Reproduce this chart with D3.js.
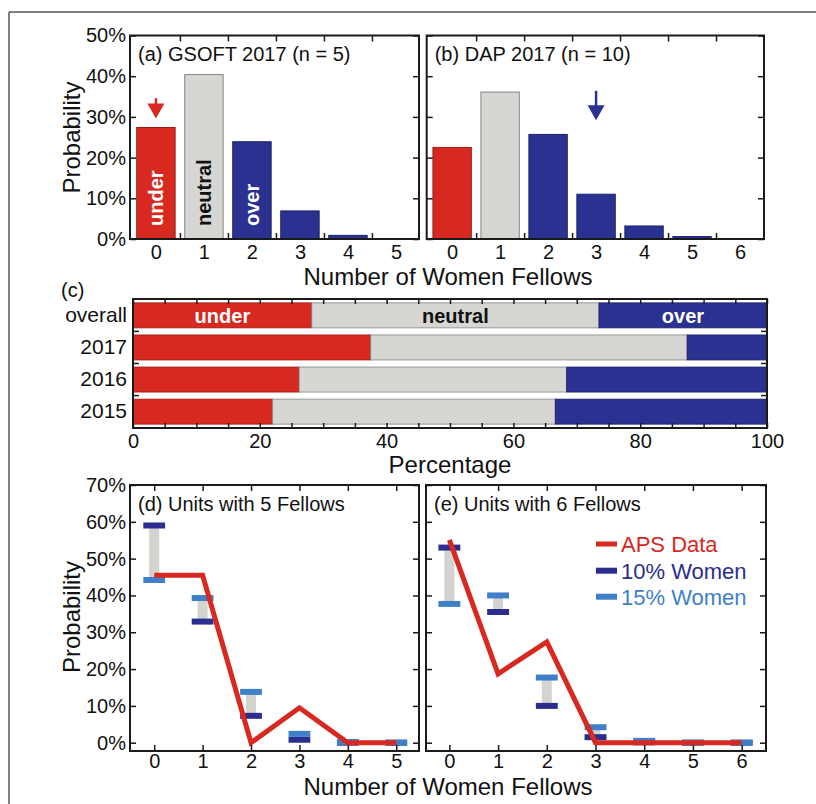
<!DOCTYPE html>
<html><head><meta charset="utf-8">
<script src="https://cdn.jsdelivr.net/npm/d3@7"></script>
<style>
body{margin:0;background:#fff}
svg{display:block}
text{font-family:"Liberation Sans",Arial,Helvetica,sans-serif}
</style></head><body>
<svg id="chart" width="816" height="804"></svg>
<script>
// ---------------- data ----------------
const fellowsA = [0,1,2,3,4,5];
const probA = [27.4,40.4,23.9,6.9,0.9,0.05];
const fellowsB = [0,1,2,3,4,5,6];
const probB = [22.5,36.1,25.7,11.0,3.2,0.6,0.05];
const yTicksTop = [0,10,20,30,40,50];
const barLabelsA = ["under","neutral","over"];

const rowsC = ["overall","2017","2016","2015"];
const underC = [28.2,37.5,26.2,22.0];
const neutralC = [45.3,49.9,42.2,44.6];
const overC = [26.5,12.6,31.6,33.4];
const pctTicks = [0,20,40,60,80,100];
const segLabelsC = ["under","neutral","over"];

const fellowsD = [0,1,2,3,4,5];
const apsD = [45.5,45.5,0,9.5,0,0];
const w10D = [59.0,32.9,7.3,0.8,0.0,0.0];
const w15D = [44.2,39.3,13.8,2.4,0.2,0.0];
const fellowsE = [0,1,2,3,4,5,6];
const apsE = [55.1,18.7,27.4,0,0,0,0];
const w10E = [53.0,35.5,10.0,1.5,0.1,0.0,0.0];
const w15E = [37.7,40.0,17.7,4.2,0.5,0.0,0.0];
const yTicksBottom = [0,10,20,30,40,50,60,70];
const legendLabels = ["APS Data","10% Women","15% Women"];

// ---------------- style ----------------
const RED = "#d7291f", GRAY = "#d6d6d2", BLUE = "#2b3190",
      DARK = "#2b2e8e", LIGHT = "#3f80c9", INK = "#1a1a1a";
const FONT = '"Liberation Sans",Arial,Helvetica,sans-serif';
const svg = d3.select("#chart");

// outer border (top and left only)
svg.append("line").attr("x1",9).attr("y1",12).attr("x2",816).attr("y2",12).attr("stroke","#555").attr("stroke-width",1.5);
svg.append("line").attr("x1",9).attr("y1",12).attr("x2",9).attr("y2",804).attr("stroke","#555").attr("stroke-width",1.5);

function styleAxis(g, size){
  g.select(".domain").remove();
  g.selectAll("line").attr("stroke",INK).attr("stroke-width",1.5);
  g.selectAll("text").attr("font-family",FONT).attr("font-size",size).attr("fill","#111");
  g.attr("font-family",FONT);
}
function frame(x0,x1,y0,y1){
  svg.append("rect").attr("x",x0).attr("y",y0).attr("width",x1-x0).attr("height",y1-y0)
    .attr("fill","none").attr("stroke",INK).attr("stroke-width",2);
}
function text(x,y,s,size,opts={}){
  const t = svg.append("text").attr("x",x).attr("y",y).text(s)
    .attr("font-size",size).attr("fill",opts.fill||"#111")
    .attr("text-anchor",opts.anchor||"start");
  if(opts.weight) t.attr("font-weight",opts.weight);
  if(opts.rotate) t.attr("transform",`rotate(${opts.rotate},${x},${y})`);
  if(opts.dy) t.attr("dy",opts.dy);
  return t;
}
function arrow(x, yTop, yTip, color){
  const hl = 15, hw = 8.5;
  svg.append("line").attr("x1",x).attr("x2",x).attr("y1",yTop).attr("y2",yTip-hl+2)
    .attr("stroke",color).attr("stroke-width",2.5);
  svg.append("path").attr("d",`M${x-hw},${yTip-hl}L${x+hw},${yTip-hl}L${x},${yTip}Z`).attr("fill",color);
}
const catColor = i => i===0 ? RED : (i===1 ? GRAY : BLUE);
const catStroke = i => i===0 ? "#9a1d15" : (i===1 ? "#858585" : "#1d2168");

// ---------------- panels (a) & (b) ----------------
function histPanel(fellows, probs, xDomain, xRange, title, arrowSpec, inBarLabels, showY){
  const x = d3.scaleLinear().domain(xDomain).range(xRange);
  const y = d3.scaleLinear().domain([0,50]).range([239,35.5]);
  const [x0,x1] = xRange, y0 = y(50), y1 = y(0);
  const bw = x(0.8)-x(0);
  svg.append("g").selectAll("rect").data(fellows).join("rect")
    .attr("x",d=>x(d-0.4)).attr("width",bw)
    .attr("y",(d,i)=>y(probs[i])).attr("height",(d,i)=>y(0)-y(probs[i]))
    .attr("fill",(d,i)=>catColor(i)).attr("stroke",(d,i)=>catStroke(i)).attr("stroke-width",1);
  if(inBarLabels){
    inBarLabels.forEach((s,i)=>{
      text(x(fellows[i]), 226, s, 20, {weight:"bold", fill: i===1?"#111":"#fff", rotate:-90, dy:"0.36em"});
    });
  }
  const gl = svg.append("g").attr("transform",`translate(${x0},0)`)
    .call(d3.axisLeft(y).tickValues(yTicksTop).tickSize(-6).tickPadding(4)
      .tickFormat(showY ? (d=>d+"%") : ""));
  styleAxis(gl,20);
  const gr = svg.append("g").attr("transform",`translate(${x1},0)`)
    .call(d3.axisRight(y).tickValues(yTicksTop).tickSize(-6).tickFormat(""));
  styleAxis(gr,20);
  const gb = svg.append("g").attr("transform",`translate(0,${y1})`)
    .call(d3.axisBottom(x).tickValues(fellows).tickSize(0).tickPadding(6).tickFormat(d3.format("d")));
  styleAxis(gb,20);
  const half = fellows.slice(0,-1).map(d=>d+0.5);
  const gbt = svg.append("g").attr("transform",`translate(0,${y1})`)
    .call(d3.axisBottom(x).tickValues(half).tickSize(-6).tickFormat(""));
  styleAxis(gbt,20);
  const gt = svg.append("g").attr("transform",`translate(0,${y0})`)
    .call(d3.axisTop(x).tickValues(half).tickSize(-6).tickFormat(""));
  styleAxis(gt,20);
  frame(x0,x1,y0,y1);
  text(x0+8, 61, title, 20);
  arrow(x(arrowSpec.at), y(arrowSpec.from), y(arrowSpec.to), arrowSpec.color);
}
histPanel(fellowsA, probA, [-0.54,5.48], [130,419], "(a) GSOFT 2017 (n = 5)",
  {at:0, from:34.6, to:29.6, color:RED}, barLabelsA, true);
histPanel(fellowsB, probB, [-0.53,6.5], [426.7,764], "(b) DAP 2017 (n = 10)",
  {at:3, from:36.4, to:29.2, color:BLUE}, null, false);

text(72, 137.5, "Probability", 24, {anchor:"middle", rotate:-90, dy:"0.35em"});
text(448, 285, "Number of Women Fellows", 24, {anchor:"middle"});

// ---------------- panel (c) ----------------
(function(){
  const x = d3.scaleLinear().domain([0,100]).range([133,767]);
  const y = d3.scaleBand().domain(rowsC).range([299,428]).paddingInner(0.22).paddingOuter(0.12);
  const segs = [];
  rowsC.forEach((r,i)=>{
    const a = underC[i], b = a+neutralC[i], c = b+overC[i];
    segs.push({r, s:0, e:a, k:0},{r, s:a, e:b, k:1},{r, s:b, e:c, k:2});
  });
  svg.append("g").selectAll("rect").data(segs).join("rect")
    .attr("x",d=>x(d.s)).attr("width",d=>x(d.e)-x(d.s))
    .attr("y",d=>y(d.r)).attr("height",y.bandwidth())
    .attr("fill",d=>catColor(d.k)).attr("stroke",d=>catStroke(d.k)).attr("stroke-width",0.8);
  segs.filter(d=>d.r===rowsC[0]).forEach(d=>{
    text(x((d.s+d.e)/2), y(d.r)+y.bandwidth()/2, segLabelsC[d.k], 20,
      {anchor:"middle", weight:"bold", fill: d.k===1?"#111":"#fff", dy:"0.36em"});
  });
  const gb = svg.append("g").attr("transform","translate(0,428)")
    .call(d3.axisBottom(x).tickValues(pctTicks).tickSize(0).tickPadding(6).tickFormat(d3.format("d")));
  styleAxis(gb,20);
  const minor = d3.range(0,101,5);
  const gbm = svg.append("g").attr("transform","translate(0,428)")
    .call(d3.axisBottom(x).tickValues(minor).tickSize(-5).tickFormat(""));
  styleAxis(gbm,20);
  const gtm = svg.append("g").attr("transform","translate(0,299)")
    .call(d3.axisTop(x).tickValues(minor).tickSize(-5).tickFormat(""));
  styleAxis(gtm,20);
  const gl = svg.append("g").attr("transform","translate(133,0)")
    .call(d3.axisLeft(y).tickSize(0).tickPadding(6));
  styleAxis(gl,21);
  const seps = rowsC.slice(0,-1).map(r=>y(r)+y.bandwidth()+(y.step()-y.bandwidth())/2);
  seps.forEach(s=>{
    svg.append("line").attr("x1",133).attr("x2",139).attr("y1",s).attr("y2",s).attr("stroke",INK).attr("stroke-width",1.5);
    svg.append("line").attr("x1",761).attr("x2",767).attr("y1",s).attr("y2",s).attr("stroke",INK).attr("stroke-width",1.5);
  });
  frame(133,767,299,428);
  text(61, 297, "(c)", 20);
  text(450, 473, "Percentage", 24, {anchor:"middle"});
})();

// ---------------- panels (d) & (e) ----------------
function modelPanel(fellows, aps, w10, w15, xDomain, xRange, title, legend, showY){
  const x = d3.scaleLinear().domain(xDomain).range(xRange);
  const y = d3.scaleLinear().domain([0,70]).range([742.7,485]);
  const [x0,x1] = xRange, y0 = y(70), y1 = y(-2.25);
  svg.append("g").selectAll("rect").data(fellows).join("rect")
    .attr("x",d=>x(d)-5).attr("width",10)
    .attr("y",(d,i)=>y(Math.max(w10[i],w15[i])))
    .attr("height",(d,i)=>Math.abs(y(w10[i])-y(w15[i])))
    .attr("fill","#d3d3cf");
  const mw = x(0.45)-x(0);
  [[w10,DARK],[w15,LIGHT]].forEach(([vals,col])=>{
    svg.append("g").selectAll("rect").data(fellows).join("rect")
      .attr("x",d=>x(d)-mw/2).attr("width",mw)
      .attr("y",(d,i)=>y(vals[i])-3).attr("height",6)
      .attr("fill",col);
  });
  svg.append("path").datum(fellows)
    .attr("d", d3.line().x(d=>x(d)).y((d,i)=>y(aps[i])))
    .attr("fill","none").attr("stroke",RED).attr("stroke-width",5)
    .attr("stroke-linejoin","miter").attr("stroke-miterlimit",10);
  const gl = svg.append("g").attr("transform",`translate(${x0},0)`)
    .call(d3.axisLeft(y).tickValues(yTicksBottom).tickSize(-6).tickPadding(4)
      .tickFormat(showY ? (d=>d+"%") : ""));
  styleAxis(gl,20);
  const gr = svg.append("g").attr("transform",`translate(${x1},0)`)
    .call(d3.axisRight(y).tickValues(yTicksBottom).tickSize(-6).tickFormat(""));
  styleAxis(gr,20);
  const gb = svg.append("g").attr("transform",`translate(0,${y1})`)
    .call(d3.axisBottom(x).tickValues(fellows).tickSize(-6).tickPadding(4).tickFormat(d3.format("d")));
  styleAxis(gb,20);
  gb.selectAll("text").attr("y",3);
  const gt = svg.append("g").attr("transform",`translate(0,${y0})`)
    .call(d3.axisTop(x).tickValues(fellows).tickSize(-6).tickFormat(""));
  styleAxis(gt,20);
  frame(x0,x1,y0,y1);
  text(x0+8, 511, title, 20);
  if(legend){
    const cols = [RED, DARK, LIGHT], widths = [5,6,6];
    const ly = [544, 570.7, 596.7];
    legendLabels.forEach((s,i)=>{
      svg.append("line").attr("x1",596).attr("x2",617).attr("y1",ly[i]).attr("y2",ly[i])
        .attr("stroke",cols[i]).attr("stroke-width",widths[i]);
      text(621, ly[i]+7.8, s, 22, {fill:cols[i]});
    });
  }
}
modelPanel(fellowsD, apsD, w10D, w15D, [-0.5,5.47], [130,419], "(d) Units with 5 Fellows", false, true);
modelPanel(fellowsE, apsE, w10E, w15E, [-0.48,6.5], [426,766], "(e) Units with 6 Fellows", true, false);

text(72, 617, "Probability", 24, {anchor:"middle", rotate:-90, dy:"0.35em"});
text(448, 795, "Number of Women Fellows", 24, {anchor:"middle"});
</script>
</body></html>
